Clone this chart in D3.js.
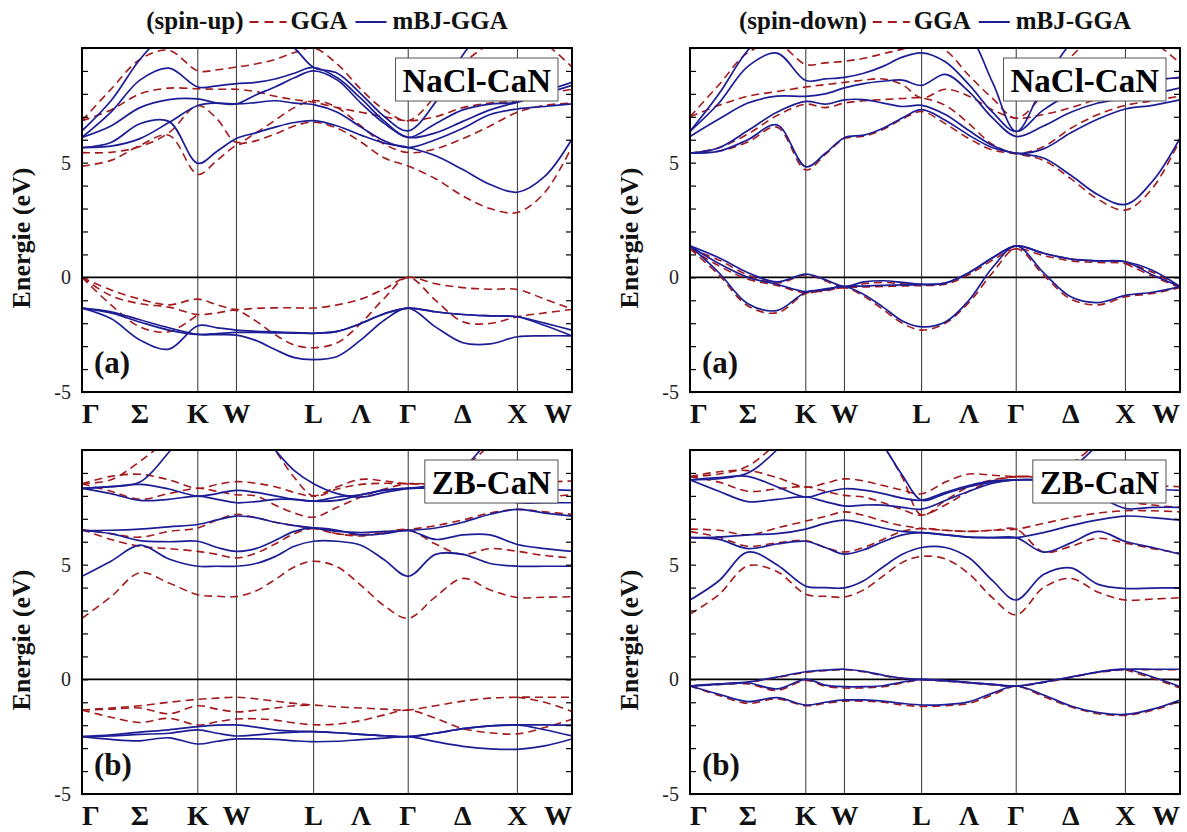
<!DOCTYPE html>
<html><head><meta charset="utf-8">
<script src="https://cdn.jsdelivr.net/npm/d3@7"></script>
<style>body{margin:0;background:#fff}svg{display:block}</style>
</head><body>
<svg id="chart" width="1187" height="832"></svg>
<script>
// k-path sample positions (units of 2π/a) along Γ-K-W-L-Γ-X-W
const kGrid = [0, 0.2652, 0.5303, 0.7955, 1.0607, 1.2374, 1.4142, 1.5910, 1.7678, 1.9445, 2.1213,
  2.3378, 2.5544, 2.7709, 2.9874, 3.2374, 3.4874, 3.7374, 3.9874, 4.2374, 4.4874];
const kPoints = [0, 1.0607, 1.4142, 2.1213, 2.9874, 3.9874, 4.4874];
const kLabels = ["Γ", "Σ", "K", "W", "L", "Λ", "Γ", "Δ", "X", "W"];
const kLabelAt = [0, 0.5303, 1.0607, 1.4142, 2.1213, 2.5544, 2.9874, 3.4874, 3.9874, 4.4874];
const yTicks = [-5, -4, -3, -2, -1, 0, 1, 2, 3, 4, 5, 6, 7, 8, 9, 10];
const yTickLabels = [-5, 0, 5];

// ---- NaCl-CaN spin-up ----  (null = segment degenerate with another band, drawn once)
const naclUpGGA = [
  [0, -0.55, -0.95, -1.2, -0.95, -1.2, -1.4, -1.35, -1.33, -1.33, -1.34, -1.2, -0.95, -0.5, 0, -0.28, -0.45, -0.52, -0.53, -0.95, -1.38],
  [0, -0.8, -1.15, -1.3, -1.62, -1.55, -1.45, -1.9, -2.5, -2.95, -3.07, -2.85, -2.0, -0.9, 0, -1.0, -1.94, -2.01, -1.72, -1.55, -1.4],
  [0, -1.2, -2.16, -2.37, -1.62, null, null, null, null, null, null, null, null, null, null, null, null, null, null, null, null],
  [4.85, 5.1, 5.75, 6.2, 4.49, 5.1, 5.75, 5.95, 6.25, 6.6, 6.76, 6.5, 5.9, 5.2, 4.85, 4.3, 3.55, 3.0, 2.83, 3.7, 5.7],
  [5.44, 5.45, 5.7, 6.3, 7.49, 6.9, 5.88, 6.3, 6.85, 7.4, 7.71, 7.4, 6.6, 5.8, 5.44, 5.6, 6.05, 6.6, 7.2, 7.5, 7.6],
  [6.83, 7.3, 8.0, 8.25, 8.22, 8.2, 8.2, 8.1, 7.9, 7.75, 7.64, 7.4, 7.2, 7.0, 6.83, 7.0, 7.4, 7.6, 7.7, 8.0, 8.2],
  [6.83, 8.2, 9.5, 9.9, 9.0, 9.05, 9.17, 9.3, 9.5, 9.8, 10.0, 9.3, 8.2, 7.3, 6.83, 7.9, 9.3, 10.2, 10.8, 10.2, 9.17]
];
const naclUpMBJ = [
  [-1.34, -1.8, -2.73, -3.13, -2.11, -2.2, -2.3, -2.35, -2.38, -2.41, -2.44, -2.36, -2.01, -1.58, -1.34, -1.5, -1.62, -1.68, -1.72, -2.0, -2.3],
  [-1.34, -1.5, -1.85, -2.2, -2.49, -2.5, -2.52, -2.75, -3.15, -3.5, -3.59, -3.45, -2.73, -1.86, -1.34, -2.16, -2.85, -2.9, -2.59, -2.55, -2.55],
  [-1.34, -1.55, -1.95, -2.3, -2.49, -2.45, -2.4, -2.4, -2.42, -2.43, -2.44, -2.36, -2.01, -1.58, -1.34, -1.5, -1.62, -1.68, -1.72, -2.1, -2.55],
  [5.66, 5.88, 6.7, 6.8, 4.97, 5.5, 6.05, 6.3, 6.55, 6.75, 6.83, 6.6, 6.2, 5.85, 5.66, 5.3, 4.7, 4.05, 3.71, 4.4, 6.03],
  [5.66, 5.72, 6.05, 6.75, 7.49, 7.6, 7.56, 7.62, 7.7, 7.6, 7.53, 7.2, 6.55, 5.95, 5.66, 6.0, 6.5, 7.1, 7.34, 7.45, 7.56],
  [6.1, 6.6, 7.4, 7.75, 7.78, 7.6, 7.56, 7.95, 8.3, 8.7, 9.0, 8.6, 7.6, 6.7, 6.1, 6.3, 6.8, 7.3, 7.64, 8.0, 8.37],
  [6.1, 7.2, 8.6, 9.12, 8.3, 8.35, 8.45, 8.5, 8.65, 8.9, 9.15, 8.7, 7.8, 6.8, 6.1, 6.7, 7.3, 7.55, 7.64, 8.1, 8.5],
  [6.39, 7.7, 9.5, 10.8, 11.5, 11.3, 11.0, 10.8, 10.6, 10.0, 9.15, 8.9, 8.0, 7.0, 6.39, 7.64, 9.7, 11.0, 11.5, 11.2, 10.6]
];
// ---- NaCl-CaN spin-down ----
const naclDnGGA = [
  [1.25, 0.1, -1.25, -1.55, -0.7, -0.6, -0.45, -0.82, -1.4, -2.0, -2.3, -2.0, -1.1, 0.2, 1.25, 0.1, -0.95, -1.2, -0.85, -0.7, -0.45],
  [1.25, 0.75, 0.1, -0.25, 0.1, -0.15, -0.45, -0.28, -0.22, -0.28, -0.35, -0.3, 0.12, 0.75, 1.25, 0.95, 0.72, 0.65, 0.6, 0.22, -0.45],
  [1.25, 0.5, -0.08, -0.35, -0.68, -0.55, -0.45, -0.42, -0.4, -0.38, -0.36, null, null, null, null, null, null, null, 0.6, 0.05, -0.45],
  [5.41, 5.5, 5.9, 6.55, 4.68, 5.35, 6.05, 6.15, 6.45, 6.9, 7.23, 6.7, 6.05, 5.55, 5.38, 5.1, 4.3, 3.4, 2.93, 3.9, 6.0],
  [5.41, 5.65, 6.25, 7.05, 7.55, 7.4, 7.6, 7.7, 7.75, 7.8, 7.82, 7.5, 6.7, 5.8, 5.41, 5.7, 6.5, 7.1, 7.5, 7.7, 7.9],
  [7.0, 7.5, 7.9, 8.1, 8.3, 8.4, 8.5, 8.6, 8.65, 8.4, 7.82, 8.2, 7.9, 7.3, 6.94, 7.1, 7.4, 7.8, 8.3, 8.6, 8.7],
  [7.0, 8.4, 9.8, 10.2, 9.28, 9.35, 9.42, 9.55, 9.75, 9.95, 10.2, 9.9, 8.8, 7.8, 6.94, 8.0, 9.6, 10.6, 11, 10.3, 9.35]
];
const naclDnMBJ = [
  [1.37, 0.2, -1.15, -1.45, -0.65, -0.55, -0.4, -0.75, -1.3, -1.9, -2.16, -1.95, -1.0, 0.43, 1.37, 0.2, -0.85, -1.1, -0.79, -0.65, -0.4],
  [1.37, 0.85, 0.2, -0.2, 0.14, -0.1, -0.4, -0.2, -0.15, -0.22, -0.3, -0.25, 0.2, 0.85, 1.37, 1.05, 0.8, 0.72, 0.68, 0.3, -0.4],
  [1.37, 0.6, 0.0, -0.3, -0.62, -0.5, -0.4, -0.38, -0.35, -0.33, -0.32, -0.25, 0.2, 0.85, 1.37, 1.05, 0.8, 0.72, 0.68, 0.1, -0.4],
  [5.41, 5.5, 6.0, 6.65, 4.82, 5.4, 6.09, 6.2, 6.5, 6.95, 7.31, 6.85, 6.2, 5.65, 5.41, 5.2, 4.45, 3.6, 3.18, 4.2, 6.07],
  [5.41, 5.65, 6.4, 7.2, 7.67, 7.55, 7.74, 7.75, 7.6, 7.45, 7.5, 7.1, 6.4, 5.75, 5.41, 5.6, 6.3, 6.9, 7.34, 7.5, 7.74],
  [6.14, 6.9, 7.6, 7.9, 7.89, 8.0, 8.26, 8.45, 8.55, 8.6, 8.37, 8.85, 8.1, 6.95, 6.14, 6.6, 7.2, 7.6, 7.8, 8.0, 8.26],
  [6.36, 7.6, 9.2, 9.78, 8.58, 8.65, 8.72, 8.9, 9.2, 9.6, 9.79, 9.4, 8.4, 7.2, 6.36, 7.3, 8.0, 8.3, 8.5, 8.6, 8.72],
  [6.36, 8.0, 9.9, 11, 11.5, 11.5, 11.5, 11.5, 11.3, 10.8, 10.5, 10.8, 10.5, 8.5, 6.36, 8.4, 10.2, 11, 11.5, 11.5, 11]
];
// ---- ZB-CaN spin-up ----
const zbUpGGA = [
  [-1.34, -1.25, -1.15, -1.0, -0.87, -0.82, -0.78, -0.85, -0.95, -1.05, -1.12, -1.2, -1.25, -1.3, -1.34, -1.15, -0.95, -0.82, -0.78, -0.78, -0.78],
  [-1.34, -1.3, -1.25, -1.5, -1.15, -1.3, -1.42, -1.35, -1.25, -1.15, -1.12, null, null, null, null, null, null, null, -0.78, -1.0, -1.4],
  [-1.34, -1.65, -1.88, -1.7, -1.99, -1.85, -1.73, -1.72, -1.78, -1.9, -1.98, -1.95, -1.8, -1.55, -1.34, -1.7, -2.15, -2.33, -2.38, -2.1, -1.74],
  [2.66, 3.6, 4.65, 4.2, 3.69, 3.62, 3.61, 3.85, 4.35, 4.9, 5.15, 4.9, 4.1, 3.2, 2.66, 3.6, 4.4, 3.9, 3.57, 3.58, 3.6],
  [6.53, 6.1, 5.8, 5.7, 5.58, 5.45, 5.29, 5.5, 5.9, 6.35, 6.58, 6.35, 6.25, 6.4, 6.53, 5.9, 5.45, 5.7, 5.58, 5.4, 5.29],
  [6.53, 6.35, 6.2, 6.45, 6.6, 6.95, 7.19, 7.05, 6.85, 6.7, 6.58, 6.35, 6.3, 6.4, 6.53, 6.7, 6.95, 7.25, 7.41, 7.3, 7.2],
  [8.53, 8.85, 8.94, 8.7, 8.33, 8.5, 8.62, 8.55, 8.4, 8.15, 7.99, 8.4, 8.72, 8.65, 8.53, 8.53, 8.53, 8.55, 8.55, 8.6, 8.65],
  [8.53, 8.2, 7.85, 8.1, 8.33, 8.2, 8.05, 8.0, 7.6, 7.25, 7.07, 7.5, 7.95, 8.3, 8.53, 8.5, 8.4, 8.1, 7.9, 7.95, 8.05],
  [8.53, 8.7, 9.5, 10.5, 11.5, 11.5, 11.5, 11.2, 10.0, 8.8, 7.99, 8.3, 8.5, 8.55, 8.53, 8.6, 9.2, 10.2, 11, 11, 11]
];
const zbUpMBJ = [
  [-2.5, -2.42, -2.3, -2.2, -2.06, -2.0, -1.99, -2.08, -2.2, -2.26, -2.28, -2.33, -2.4, -2.46, -2.5, -2.35, -2.15, -2.03, -1.99, -1.99, -2.0],
  [-2.5, -2.47, -2.4, -2.35, -2.2, -2.35, -2.47, -2.42, -2.35, -2.3, -2.28, -2.33, -2.4, -2.46, -2.5, -2.35, -2.15, -2.03, -1.99, -2.2, -2.47],
  [-2.5, -2.62, -2.68, -2.55, -2.82, -2.7, -2.6, -2.6, -2.62, -2.68, -2.72, -2.7, -2.63, -2.56, -2.5, -2.72, -2.92, -3.03, -3.05, -2.9, -2.6],
  [4.49, 5.15, 5.85, 5.25, 4.93, 4.93, 4.93, 5.05, 5.35, 5.8, 6.02, 6.02, 5.85, 5.2, 4.49, 5.45, 5.45, 5.05, 4.93, 4.93, 4.93],
  [6.49, 6.35, 6.05, 6.0, 6.02, 5.75, 5.58, 5.7, 6.05, 6.45, 6.6, 6.5, 6.3, 6.35, 6.49, 6.1, 6.3, 6.3, 5.88, 5.7, 5.58],
  [6.49, 6.5, 6.55, 6.65, 6.75, 6.95, 7.12, 7.05, 6.85, 6.7, 6.6, 6.45, 6.4, 6.45, 6.49, 6.6, 6.85, 7.2, 7.41, 7.25, 7.12],
  [8.33, 8.4, 8.5, 8.3, 7.99, 8.1, 8.24, 8.15, 8.0, 7.85, 7.77, 7.95, 8.05, 8.25, 8.33, 8.33, 8.33, 8.35, 8.3, 8.28, 8.24],
  [8.33, 8.1, 7.8, 7.85, 7.99, 7.85, 7.7, 7.75, 7.85, 7.85, 7.77, 7.8, 8.05, 8.25, 8.33, 8.33, 8.33, 8.0, 7.7, 7.7, 7.7],
  [8.33, 8.4, 8.6, 9.9, 11.5, 11.5, 11.5, 11.0, 10.0, 9.1, 8.53, 8.1, 7.95, 8.15, 8.33, 8.5, 9.2, 10.4, 11, 11, 11]
];
// ---- ZB-CaN spin-down ----
const zbDnGGA = [
  [-0.29, -0.22, -0.13, 0.08, 0.3, 0.38, 0.42, 0.33, 0.16, 0.03, -0.02, -0.08, -0.16, -0.24, -0.3, -0.14, 0.08, 0.3, 0.42, 0.42, 0.42],
  [-0.29, -0.22, -0.2, -0.48, -0.05, -0.3, -0.38, -0.37, -0.32, -0.15, -0.02, null, null, null, null, null, null, null, 0.42, 0.05, -0.38],
  [-0.29, -0.7, -1.05, -0.85, -1.15, -1.05, -0.95, -0.95, -1.0, -1.12, -1.18, -1.15, -1.05, -0.68, -0.3, -0.75, -1.2, -1.5, -1.57, -1.35, -0.95],
  [2.84, 3.7, 4.95, 4.7, 3.71, 3.62, 3.59, 3.9, 4.5, 5.1, 5.36, 5.25, 4.6, 3.55, 2.81, 4.0, 4.4, 3.8, 3.46, 3.5, 3.56],
  [6.44, 6.2, 5.8, 5.95, 6.05, 5.75, 5.55, 5.75, 6.1, 6.45, 6.58, 6.5, 6.45, 6.5, 6.55, 5.55, 5.8, 6.15, 5.94, 5.7, 5.5],
  [6.55, 6.5, 6.3, 6.6, 6.9, 7.1, 7.3, 7.15, 6.9, 6.7, 6.58, 6.5, 6.45, 6.5, 6.55, 6.8, 7.05, 7.25, 7.35, 7.35, 7.3],
  [8.84, 8.6, 8.2, 8.3, 8.4, 8.2, 8.02, 7.95, 7.7, 7.4, 7.16, 7.6, 8.2, 8.65, 8.84, 8.8, 8.7, 8.4, 7.8, 7.6, 7.5],
  [8.84, 9.05, 9.1, 8.8, 8.38, 8.55, 8.74, 8.65, 8.45, 8.25, 8.09, 8.6, 8.95, 8.9, 8.84, 8.84, 8.84, 8.7, 8.5, 8.45, 8.4],
  [8.84, 8.95, 9.3, 10.3, 11.5, 11.5, 11.5, 11.2, 10.2, 8.8, 7.16, 7.8, 8.4, 8.7, 8.84, 8.9, 9.4, 10.3, 11, 11, 11]
];
const zbDnMBJ = [
  [-0.29, -0.22, -0.12, 0.1, 0.33, 0.4, 0.44, 0.35, 0.18, 0.05, 0.0, -0.06, -0.14, -0.22, -0.29, -0.12, 0.1, 0.32, 0.44, 0.44, 0.44],
  [-0.29, -0.2, -0.15, -0.42, 0.0, -0.25, -0.32, -0.32, -0.28, -0.12, 0.0, -0.06, -0.14, -0.22, -0.29, -0.12, 0.1, 0.32, 0.44, 0.1, -0.32],
  [-0.29, -0.65, -0.97, -0.8, -1.12, -1.0, -0.9, -0.9, -0.95, -1.05, -1.12, -1.1, -0.98, -0.6, -0.29, -0.68, -1.16, -1.45, -1.53, -1.3, -0.9],
  [3.46, 4.3, 5.55, 5.0, 4.06, 4.0, 3.99, 4.3, 4.9, 5.45, 5.75, 5.75, 5.3, 4.3, 3.46, 4.57, 4.86, 4.14, 3.96, 3.98, 3.99],
  [6.18, 6.1, 5.7, 5.9, 6.02, 5.75, 5.46, 5.65, 6.0, 6.3, 6.4, 6.3, 6.2, 6.18, 6.18, 5.55, 5.95, 6.45, 6.01, 5.75, 5.46],
  [6.18, 6.2, 6.3, 6.35, 6.55, 6.8, 6.94, 6.8, 6.6, 6.45, 6.4, 6.3, 6.2, 6.18, 6.18, 6.4, 6.7, 6.95, 7.12, 7.05, 6.94],
  [8.7, 8.2, 7.75, 7.85, 7.95, 7.75, 7.56, 7.6, 7.6, 7.5, 7.42, 7.8, 8.2, 8.55, 8.7, 8.7, 8.7, 8.0, 7.45, 7.5, 7.5],
  [8.7, 8.8, 8.85, 8.4, 7.95, 8.15, 8.31, 8.25, 8.1, 7.9, 7.81, 8.15, 8.45, 8.65, 8.7, 8.7, 8.7, 8.6, 8.4, 8.3, 8.24],
  [8.7, 8.75, 9.0, 10.0, 11.5, 11.5, 11.5, 11.2, 10.2, 8.9, 7.81, 8.1, 8.4, 8.6, 8.7, 8.75, 9.2, 10.2, 11, 11, 11]
];

const panels = [
  {x: 82,  y: 48,  spin: "(spin-up)",   name: "NaCl-CaN", letter: "(a)", gga: naclUpGGA, mbj: naclUpMBJ, title: true},
  {x: 690, y: 48,  spin: "(spin-down)", name: "NaCl-CaN", letter: "(a)", gga: naclDnGGA, mbj: naclDnMBJ, title: true},
  {x: 82,  y: 450, name: "ZB-CaN", letter: "(b)", gga: zbUpGGA, mbj: zbUpMBJ},
  {x: 690, y: 450, name: "ZB-CaN", letter: "(b)", gga: zbDnGGA, mbj: zbDnMBJ}
];

const PW = 490, PH = 344;
const SERIF = "'Liberation Serif','Times New Roman',Times,serif";
const RED = "#a3191c", BLUE = "#1d1d96";
const svg = d3.select("#chart");

panels.forEach((p, i) => {
  const x = d3.scaleLinear().domain([0, kPoints[kPoints.length - 1]]).range([p.x, p.x + PW]);
  const y = d3.scaleLinear().domain([-5, 10]).range([p.y + PH, p.y]);
  const g = svg.append("g");
  const clipId = "clip" + i;
  svg.append("clipPath").attr("id", clipId).append("rect")
    .attr("x", p.x).attr("y", p.y).attr("width", PW).attr("height", PH);

  // high-symmetry verticals
  g.selectAll("line.v").data(kPoints.slice(1, -1)).join("line")
    .attr("x1", d => x(d)).attr("x2", d => x(d)).attr("y1", p.y).attr("y2", p.y + PH)
    .attr("stroke", "#333").attr("stroke-width", 1);
  // Fermi level
  g.append("line").attr("x1", p.x).attr("x2", p.x + PW).attr("y1", y(0)).attr("y2", y(0))
    .attr("stroke", "#000").attr("stroke-width", 1.6);

  const line = d3.line().defined(d => d !== null)
    .x((d, j) => x(kGrid[j])).y(d => y(d)).curve(d3.curveCatmullRom.alpha(0.5));
  const bands = g.append("g").attr("clip-path", `url(#${clipId})`);
  bands.selectAll("path.gga").data(p.gga).join("path")
    .attr("d", line).attr("fill", "none").attr("stroke", RED).attr("stroke-width", 1.6)
    .attr("stroke-dasharray", "8,5");
  bands.selectAll("path.mbj").data(p.mbj).join("path")
    .attr("d", line).attr("fill", "none").attr("stroke", BLUE).attr("stroke-width", 1.7);

  // axes ticks
  const fmt = d => yTickLabels.includes(d) ? String(d) : "";
  const ax = g.append("g").attr("transform", `translate(${p.x},0)`)
    .call(d3.axisLeft(y).tickValues(yTicks).tickSize(-6).tickPadding(11).tickFormat(fmt));
  ax.select(".domain").remove();
  ax.selectAll("line").attr("stroke", "#000").attr("stroke-width", 1.2);
  ax.selectAll("text").attr("font-family", SERIF).attr("font-size", 20).attr("fill", "#222");
  const ax2 = g.append("g").attr("transform", `translate(${p.x + PW},0)`)
    .call(d3.axisRight(y).tickValues(yTicks).tickSize(-6).tickFormat(""));
  ax2.select(".domain").remove();
  ax2.selectAll("line").attr("stroke", "#000").attr("stroke-width", 1.2);

  // frame
  g.append("rect").attr("x", p.x).attr("y", p.y).attr("width", PW).attr("height", PH)
    .attr("fill", "none").attr("stroke", "#000").attr("stroke-width", 2);

  // k labels
  g.selectAll("text.k").data(kLabels).join("text")
    .attr("x", (d, j) => x(kLabelAt[j]) + (j === 0 ? 9 : j === kLabels.length - 1 ? -14 : 0))
    .attr("y", p.y + PH + 31)
    .attr("text-anchor", "middle").attr("font-family", SERIF).attr("font-weight", "bold")
    .attr("font-size", 28).attr("fill", "#111").text(d => d);

  // y label
  g.append("text").attr("transform", `translate(${p.x - 61},${p.y + 190}) rotate(-90)`)
    .attr("text-anchor", "middle").attr("dominant-baseline", "central")
    .attr("font-family", SERIF).attr("font-weight", "bold").attr("font-size", 26).attr("fill", "#111")
    .text("Energie (eV)");

  // panel letter
  g.append("text").attr("x", p.x + 12).attr("y", p.y + PH - 19)
    .attr("font-family", SERIF).attr("font-weight", "bold").attr("font-size", 31).attr("fill", "#111")
    .text(p.letter);

  // name box
  const bx = g.append("g");
  const nt = bx.append("text").attr("font-family", SERIF).attr("font-weight", "bold")
    .attr("font-size", 33).attr("fill", "#000").text(p.name);
  const tw = nt.node().getComputedTextLength();
  const bw = tw + 14, bRight = p.x + PW - 14, bTop = p.y + 10;
  bx.insert("rect", "text").attr("x", bRight - bw).attr("y", bTop).attr("width", bw).attr("height", 43)
    .attr("fill", "#fff").attr("stroke", "#555").attr("stroke-width", 1);
  nt.attr("x", bRight - bw / 2).attr("y", bTop + 34).attr("text-anchor", "middle");

  // title legend
  if (p.title) {
    const tg = svg.append("g");
    const style = s => s.attr("font-family", SERIF).attr("font-weight", "bold").attr("font-size", 25).attr("fill", "#111");
    let cx = 0;
    const t1 = tg.append("text").call(style).attr("x", cx).attr("y", 29).text(p.spin);
    cx += t1.node().getComputedTextLength() + 6;
    tg.append("line").attr("x1", cx).attr("x2", cx + 37).attr("y1", 22).attr("y2", 22)
      .attr("stroke", RED).attr("stroke-width", 2).attr("stroke-dasharray", "9,6");
    cx += 41;
    const t2 = tg.append("text").call(style).attr("x", cx).attr("y", 29).text("GGA");
    cx += t2.node().getComputedTextLength() + 8;
    tg.append("line").attr("x1", cx).attr("x2", cx + 31).attr("y1", 22).attr("y2", 22)
      .attr("stroke", BLUE).attr("stroke-width", 2);
    cx += 37;
    const t3 = tg.append("text").call(style).attr("x", cx).attr("y", 29).text("mBJ-GGA");
    cx += t3.node().getComputedTextLength();
    tg.attr("transform", `translate(${p.x + PW / 2 - cx / 2},0)`);
  }
});
</script>
</body></html>
